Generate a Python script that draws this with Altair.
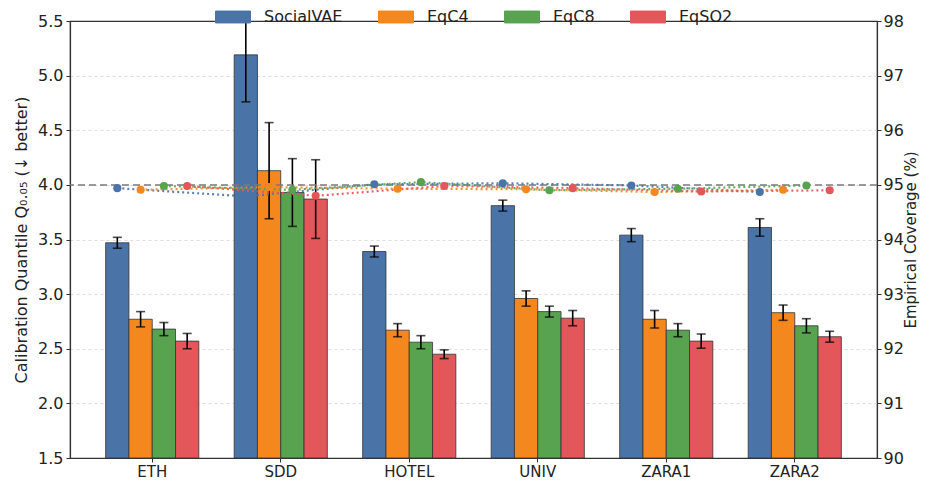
import altair as alt
import pandas as pd

datasets = ["ETH", "SDD", "HOTEL", "UNIV", "ZARA1", "ZARA2"]
methods = ["SocialVAE", "EqC4", "EqC8", "EqSO2"]
colors = ["#4a74a8", "#f5871f", "#58a34f", "#e3565a"]

# Calibration quantile Q_0.05 (bars) and their error half-widths
q_socialvae = [3.47, 5.19, 3.39, 3.81, 3.54, 3.61]
q_eqc4 = [2.77, 4.13, 2.67, 2.96, 2.77, 2.83]
q_eqc8 = [2.68, 3.93, 2.56, 2.84, 2.67, 2.71]
q_eqso2 = [2.57, 3.87, 2.45, 2.78, 2.57, 2.61]

err_socialvae = [0.05, 0.43, 0.05, 0.05, 0.06, 0.08]
err_eqc4 = [0.07, 0.44, 0.06, 0.07, 0.08, 0.07]
err_eqc8 = [0.06, 0.31, 0.06, 0.05, 0.06, 0.065]
err_eqso2 = [0.07, 0.36, 0.04, 0.07, 0.065, 0.05]

# Empirical coverage (%) (dotted lines, right axis)
cov_socialvae = [94.94, 94.79, 95.01, 95.03, 94.99, 94.87]
cov_eqc4 = [94.91, 94.96, 94.93, 94.92, 94.87, 94.91]
cov_eqc8 = [94.98, 94.91, 95.05, 94.90, 94.93, 94.99]
cov_eqso2 = [94.98, 94.80, 94.98, 94.94, 94.88, 94.90]

target_coverage = [95]
q_floor = 1.5

q_ticks = [1.5, 2.0, 2.5, 3.0, 3.5, 4.0, 4.5, 5.0, 5.5]
cov_ticks = [90, 91, 92, 93, 94, 95, 96, 97, 98]

rows = []
for m, qs, es, cs in zip(
    methods,
    [q_socialvae, q_eqc4, q_eqc8, q_eqso2],
    [err_socialvae, err_eqc4, err_eqc8, err_eqso2],
    [cov_socialvae, cov_eqc4, cov_eqc8, cov_eqso2],
):
    for d, q, e, c in zip(datasets, qs, es, cs):
        rows.append({"dataset": d, "method": m, "q": q, "lo": q - e, "hi": q + e, "cov": c})
df = pd.DataFrame(rows)
ref_df = pd.DataFrame({"ref": target_coverage})

FONT = "DejaVu Sans"

x_enc = alt.X(
    "dataset:N",
    sort=datasets,
    scale=alt.Scale(paddingInner=0.275, paddingOuter=0.2775),
    axis=alt.Axis(
        title=None,
        labelAngle=0,
        labelPadding=2,
        labelFontSize=15,
        tickSize=4,
        grid=False,
    ),
)
xo_enc = alt.XOffset("method:N", sort=methods, scale=alt.Scale(domain=methods, paddingInner=0, paddingOuter=0))
color_scale = alt.Scale(domain=methods, range=colors)

q_scale = alt.Scale(domain=[1.5, 5.5], nice=False, zero=False)
q_axis = alt.Axis(
    title="Calibration Quantile  Q₀.₀₅  (↓ better)",
    values=q_ticks,
    format=".1f",
    grid=True,
    gridColor="#d4d4d4",
    gridDash=[3, 3],
    gridWidth=0.8,
    gridOpacity={"condition": {"test": "datum.value <= 1.5 || datum.value >= 5.5", "value": 0}, "value": 1},
    orient="left",
    titlePadding=8,
    titleFontSize=16,
    labelPadding=3,
)

cov_scale = alt.Scale(domain=[90, 98], nice=False, zero=False)
cov_axis = alt.Axis(
    title="Empirical Coverage (%)",
    values=cov_ticks,
    format="d",
    grid=False,
    orient="right",
    titleAngle=270,
    titleBaseline="top",
    titlePadding=0,
    titleFontSize=15,
    labelPadding=2,
)

base = alt.Chart(df)

bars = base.mark_bar(stroke="#333333", strokeWidth=1, strokeOpacity=0.8, clip=True).encode(
    x=x_enc,
    xOffset=xo_enc,
    y=alt.Y("q:Q", scale=q_scale, axis=q_axis),
    y2=alt.datum(q_floor),
    color=alt.Color(
        "method:N",
        sort=methods,
        scale=color_scale,
        legend=alt.Legend(
            title=None,
            orient="none",
            legendX=145,
            legendY=-22,
            direction="horizontal",
            symbolType="M-1,-0.34L1,-0.34L1,0.34L-1,0.34Z",
            symbolSize=1225,
            symbolStrokeColor="#333333",
            symbolStrokeWidth=1,
            symbolOpacity=1,
            labelFont=FONT,
            labelFontSize=16,
            labelColor="#222222",
            labelOffset=13,
            columnPadding=33,
        ),
    ),
)

err_rules = base.mark_rule(color="black", strokeWidth=1.6, clip=True).encode(
    x=x_enc,
    xOffset=xo_enc,
    y=alt.Y("lo:Q", scale=q_scale, axis=q_axis),
    y2="hi:Q",
)
caps_lo = base.mark_tick(color="black", thickness=1.6, size=9, clip=True).encode(
    x=x_enc, xOffset=xo_enc, y=alt.Y("lo:Q", scale=q_scale, axis=q_axis)
)
caps_hi = base.mark_tick(color="black", thickness=1.6, size=9, clip=True).encode(
    x=x_enc, xOffset=xo_enc, y=alt.Y("hi:Q", scale=q_scale, axis=q_axis)
)

ref_rule = alt.Chart(ref_df).mark_rule(color="#7a7a7a", strokeDash=[7, 4], strokeWidth=1.5).encode(
    y=alt.Y("ref:Q", scale=cov_scale, axis=cov_axis)
)
cov_lines = base.mark_line(strokeDash=[2, 3], strokeWidth=2.2, opacity=0.9).encode(
    x=x_enc,
    xOffset=xo_enc,
    y=alt.Y("cov:Q", scale=cov_scale, axis=cov_axis),
    color=alt.Color("method:N", sort=methods, scale=color_scale, legend=None),
    detail="method:N",
)
cov_points = base.mark_circle(size=65, opacity=1).encode(
    x=x_enc,
    xOffset=xo_enc,
    y=alt.Y("cov:Q", scale=cov_scale, axis=cov_axis),
    color=alt.Color("method:N", sort=methods, scale=color_scale, legend=None),
)

left = alt.layer(bars, err_rules, caps_lo, caps_hi)
right = alt.layer(ref_rule, cov_lines, cov_points)

chart = (
    alt.layer(left, right)
    .resolve_scale(y="independent")
    .properties(
        width=807,
        height=437,
        autosize=alt.AutoSizeParams(type="none"),
        padding={"left": 62, "top": 13, "right": 44, "bottom": 21},
    )
    .configure_view(stroke="#333333", strokeWidth=1.2)
    .configure_axis(
        labelFont=FONT,
        labelFontSize=16,
        labelColor="#222222",
        titleFont=FONT,
        titleFontSize=16,
        titleColor="#222222",
        titleFontWeight="normal",
        domainColor="#333333",
        domainWidth=1.2,
        tickColor="#333333",
        tickSize=4,
    )
)

chart.save("out.html", embed_options={"renderer": "svg", "actions": False})
